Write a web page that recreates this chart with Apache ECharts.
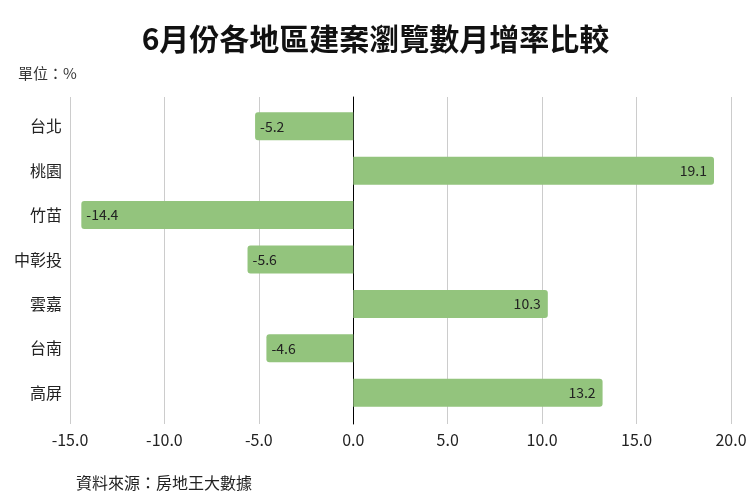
<!DOCTYPE html>
<html>
<head>
<meta charset="UTF-8"/>
<title>6月份各地區建案瀏覽數月增率比較</title>
<script src="https://cdn.jsdelivr.net/npm/echarts@6/dist/echarts.min.js"></script>
<style>
html,body{margin:0;padding:0;background:#fff;}
#chart{width:751px;height:499px;}
</style>
</head>
<body>
<div id="chart"></div>
<script type="text/javascript">
var regions = ['台北', '桃園', '竹苗', '中彰投', '雲嘉', '台南', '高屏'];
var growth = [-5.2, 19.1, -14.4, -5.6, 10.3, -4.6, 13.2];
var barColor = '#93c47d';

var myChart = echarts.init(document.getElementById('chart'));

// 正值標籤放右端，負值放左端
var barData = growth.map(function (v) {
  return {
    value: v,
    itemStyle: { borderRadius: v < 0 ? [3, 0, 0, 3] : [0, 3, 3, 0] },
    label: { position: v < 0 ? 'insideLeft' : 'insideRight', distance: v < 0 ? 5 : 7 }
  };
});

// grid 0 只畫格線、刻度與零線（比長條區略高），grid 1 放長條
var option = {
  backgroundColor: '#fff',
  textStyle: { fontFamily: '"Noto Sans CJK TC", "Noto Sans", sans-serif' },
  title: [
    {
      text: '6月份各地區建案瀏覽數月增率比較',
      left: 'center',
      top: 19,
      textStyle: { fontSize: 30, fontWeight: 'bold', color: '#111' }
    },
    {
      text: '單位：%',
      left: 13,
      top: 61,
      textStyle: { fontSize: 15, fontWeight: 'normal', color: '#333' }
    },
    {
      text: '資料來源：房地王大數據',
      left: 71,
      top: 470,
      textStyle: { fontSize: 16, fontWeight: 'normal', color: '#222' }
    }
  ],
  grid: [
    { left: 70, right: 20, top: 97, bottom: 75 },
    { left: 70, right: 20, top: 104, bottom: 84 }
  ],
  xAxis: [
    {
      gridIndex: 0,
      type: 'value',
      min: -15,
      max: 20,
      interval: 5,
      axisLine: { show: false },
      axisTick: { show: false },
      axisLabel: {
        color: '#222',
        fontSize: 16,
        margin: 8,
        formatter: function (v) { return v.toFixed(1); }
      },
      splitLine: { lineStyle: { color: '#cccccc', width: 1 } }
    },
    {
      gridIndex: 1,
      type: 'value',
      min: -15,
      max: 20,
      interval: 5,
      show: false,
      splitLine: { show: false }
    }
  ],
  yAxis: [
    {
      gridIndex: 0,
      type: 'value',
      min: 0,
      max: 1,
      axisLine: { show: true, onZero: true, lineStyle: { color: '#000', width: 1 } },
      axisTick: { show: false },
      axisLabel: { show: false },
      splitLine: { show: false }
    },
    {
      gridIndex: 1,
      type: 'category',
      data: regions,
      inverse: true,
      axisLine: { show: false },
      axisTick: { show: false },
      axisLabel: { color: '#222', fontSize: 16, margin: 8 }
    }
  ],
  series: [
    {
      type: 'bar',
      xAxisIndex: 1,
      yAxisIndex: 1,
      data: barData,
      barWidth: '63%',
      itemStyle: { color: barColor },
      label: {
        show: true,
        color: '#222',
        fontSize: 14,
        formatter: function (p) { return p.value.toFixed(1); }
      }
    }
  ]
};

myChart.setOption(option);
</script>
</body>
</html>
